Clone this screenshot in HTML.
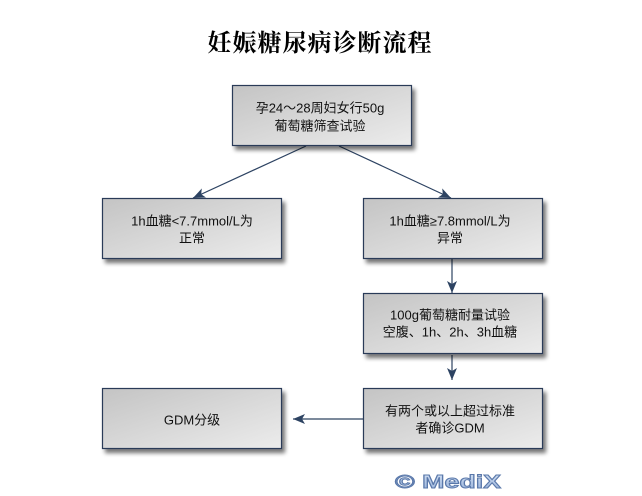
<!DOCTYPE html>
<html>
<head>
<meta charset="utf-8">
<style>
  html,body{margin:0;padding:0;background:#fff;}
  body{width:642px;height:496px;overflow:hidden;}
  svg{display:block;}
  .t{font-family:"Liberation Sans","Noto Sans CJK SC",sans-serif;font-size:13px;fill:#111;}
</style>
</head>
<body>
<svg width="642" height="496" viewBox="0 0 642 496" xmlns="http://www.w3.org/2000/svg">
  <defs>
    <linearGradient id="g" x1="0" y1="0" x2="1" y2="1">
      <stop offset="0" stop-color="#c4c4c4"/>
      <stop offset="1" stop-color="#ececec"/>
    </linearGradient>
    <linearGradient id="wm" x1="0" y1="0" x2="0" y2="1">
      <stop offset="0" stop-color="#d4e2f4"/>
      <stop offset="1" stop-color="#94aed8"/>
    </linearGradient>
    <filter id="sh" x="-10%" y="-20%" width="130%" height="150%">
      <feGaussianBlur in="SourceAlpha" stdDeviation="2"/>
      <feOffset dx="3" dy="4" result="b"/>
      <feComponentTransfer><feFuncA type="linear" slope="0.55"/></feComponentTransfer>
      <feMerge><feMergeNode/><feMergeNode in="SourceGraphic"/></feMerge>
    </filter>
    <marker id="ar" viewBox="0 0 12 10" refX="12" refY="5" markerWidth="12" markerHeight="10" markerUnits="userSpaceOnUse" orient="auto">
      <path d="M0,0 L12,5 L0,10 L3,5 z" fill="#2d4362"/>
    </marker>
  </defs>

  <!-- title -->
  <text x="320" y="51" text-anchor="middle" font-family="'Noto Serif CJK SC','Liberation Serif',serif" font-weight="bold" font-size="24" letter-spacing="1" fill="#000">妊娠糖尿病诊断流程</text>

  <!-- connectors -->
  <g stroke="#2d4362" stroke-width="1.2" fill="none">
    <line x1="306" y1="146" x2="193" y2="198" marker-end="url(#ar)"/>
    <line x1="339" y1="146" x2="451" y2="198" marker-end="url(#ar)"/>
    <line x1="452" y1="258" x2="452" y2="293" marker-end="url(#ar)"/>
    <line x1="452" y1="355" x2="452" y2="380" marker-end="url(#ar)"/>
    <line x1="363" y1="419" x2="293" y2="419" marker-end="url(#ar)"/>
  </g>

  <!-- boxes -->
  <g fill="url(#g)" stroke="#2a3b58" stroke-width="1.2" filter="url(#sh)">
    <rect x="232.5" y="85.5" width="179" height="60"/>
    <rect x="102.5" y="198.5" width="179" height="60"/>
    <rect x="363.5" y="198.5" width="179" height="60"/>
    <rect x="363.5" y="293.5" width="179" height="60"/>
    <rect x="102.5" y="388.5" width="179" height="60"/>
    <rect x="363.5" y="388.5" width="179" height="60"/>
  </g>

  <!-- labels -->
  <g class="t" text-anchor="middle" dominant-baseline="central">
    <text x="320" y="108">孕24～28周妇女行50g</text>
    <text x="320" y="126">葡萄糖筛查试验</text>

    <text x="192" y="221">1h血糖&lt;7.7mmol/L为</text>
    <text x="192" y="238">正常</text>

    <text x="450" y="221">1h血糖≥7.8mmol/L为</text>
    <text x="450" y="238">异常</text>

    <text x="450" y="315">100g葡萄糖耐量试验</text>
    <text x="450" y="332">空腹、1h、2h、3h血糖</text>

    <text x="450" y="411">有两个或以上超过标准</text>
    <text x="450" y="428">者确诊GDM</text>

    <text x="192" y="420">GDM分级</text>
  </g>

  <!-- watermark -->
  <text x="395" y="488" font-family="'Liberation Sans',sans-serif" font-weight="bold" font-size="18" fill="url(#wm)" stroke="#5a78aa" stroke-width="0.9" textLength="106" lengthAdjust="spacingAndGlyphs">© MediX</text>
</svg>
</body>
</html>
